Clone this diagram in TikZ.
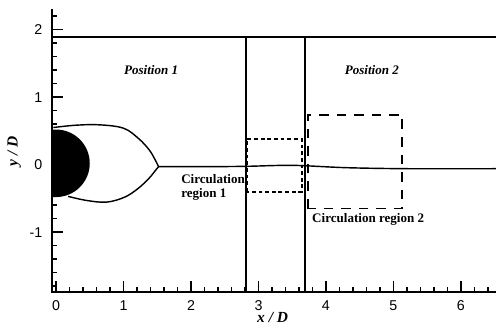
\documentclass[tikz,border=0pt]{standalone}
\usepackage{fontspec}
\setmainfont{Liberation Serif}
\setsansfont{Liberation Sans}
\usetikzlibrary{positioning}

\begin{document}
\begin{tikzpicture}[
  axis/.style={line width=1pt},
  tick/.style={line width=0.6pt},
  wall/.style={line width=0.9pt},
  thinwall/.style={line width=0.5pt},
  curve/.style={line width=0.6pt},
  regA/.style={line width=0.9pt, dash pattern=on 1.6pt off 1.2pt},
  regB/.style={line width=0.8pt, dash pattern=on 4pt off 3.4pt},
  numlab/.style={font=\sffamily\fontsize{6}{7}\selectfont, inner sep=1pt},
  poslab/.style={font=\bfseries\itshape\fontsize{5.5}{6}\selectfont, inner sep=0pt},
  axlab/.style={font=\bfseries\itshape\fontsize{6.5}{7}\selectfont, inner sep=0pt},
  reglab/.style={font=\bfseries\fontsize{5.5}{6}\selectfont, align=left, inner sep=0pt}
]
\useasboundingbox (-0.83,-2.38) rectangle (6.52,2.44);

% --- Axes and ticks -----------------------------------------------------------
\draw[axis] (-0.06,2.3) -- (-0.06,-1.89) -- (6.52,-1.89);
\foreach \i in {0,...,32} \draw[tick] (\i*0.2,-1.89) -- ++(0,0.08);
\foreach \x in {0,...,6} \draw[tick] (\x,-1.89) -- ++(0,0.16);
\foreach \i in {-9,...,11} \draw[tick] (-0.06,\i*0.2) -- ++(0.08,0);
\foreach \y in {-1,...,2} \draw[tick] (-0.06,\y) -- ++(0.16,0);

\foreach \x in {0,...,6} \node[numlab, anchor=north] (xt\x) at (\x,-1.97) {\x};
\foreach \y in {-1,...,2} \node[numlab, anchor=east] (yt\y) at (-0.16,\y) {\y};

\node[axlab] (xlab) at (3.21,-2.26) {x / D};
\node[axlab, rotate=90] (ylab) at (-0.62,0.2) {y / D};

% --- Channel walls ------------------------------------------------------------
\draw[wall] (-0.06,1.89) -- (6.52,1.89);
\draw[wall] (2.81,1.89) -- (2.81,-1.89);
\draw[thinwall] (3.69,1.89) -- (3.69,-1.89);

% --- Body, bubble and wake ------------------------------------------------------
\fill (-0.06,0.52) -- (0,0.52) arc[start angle=90, end angle=-90, radius=0.5] -- (-0.06,-0.48) -- cycle;
\draw[curve] plot[smooth, tension=0.6] coordinates {(-0.04,0.55) (0.3,0.585) (0.65,0.59) (1.0,0.54) (1.22,0.39) (1.38,0.22) (1.47,0.07) (1.52,-0.03)};
\draw[curve] plot[smooth, tension=0.6] coordinates {(0.18,-0.47) (0.45,-0.53) (0.75,-0.555) (1.02,-0.48) (1.22,-0.35) (1.38,-0.2) (1.47,-0.09) (1.52,-0.03)};
\draw[curve] plot[smooth] coordinates {(1.52,-0.03) (2.2,-0.03) (2.81,-0.025) (3.5,-0.01) (4.3,-0.045) (5.2,-0.06) (6.52,-0.06)};

% --- Circulation regions --------------------------------------------------------
\draw[regA] (2.83,-0.40) rectangle (3.64,0.38);
\draw[regB] (3.73,-0.65) rectangle (5.13,0.74);

% --- Labels -------------------------------------------------------------------
\node[poslab] (pos1) at (1.41,1.40) {Position 1};
\node[poslab] (pos2) at (4.68,1.40) {Position 2};
\node[reglab, anchor=west] (reg1) at (1.85,-0.34) {Circulation\\region 1};
\node[reglab, anchor=west] (reg2) at (3.79,-0.81) {Circulation region 2};

\end{tikzpicture}
\end{document}
